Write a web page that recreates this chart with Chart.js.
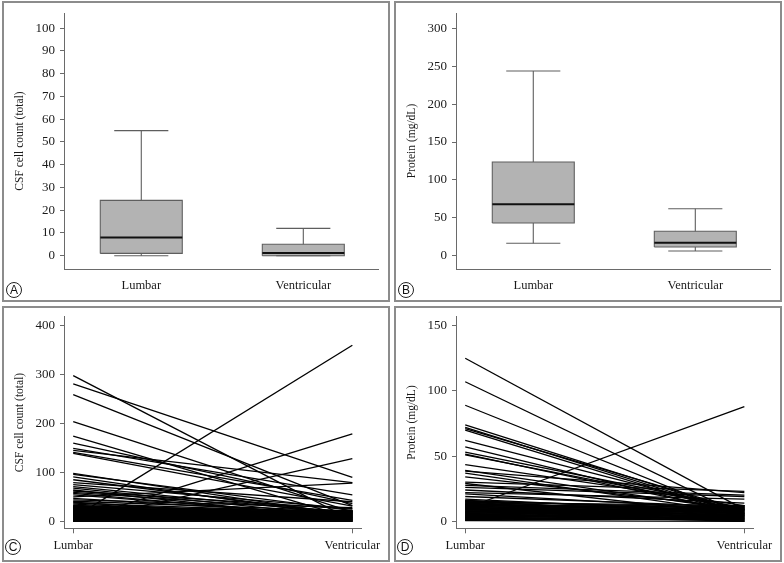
<!DOCTYPE html>
<html><head><meta charset="utf-8">
<script src="https://cdn.jsdelivr.net/npm/chart.js@4/dist/chart.umd.min.js"></script>
<style>
html,body{margin:0;padding:0;background:#fff;width:784px;height:563px;overflow:hidden;position:relative}
.panel{position:absolute;box-sizing:border-box;border:2px solid #8c8c8c}
canvas{position:absolute}
.tag{position:absolute;width:16px;height:16px;box-sizing:border-box;border:1px solid #222;border-radius:50%;font:12px 'Liberation Sans',Arial,sans-serif;line-height:14px;text-align:center;color:#111}
</style></head><body>
<div class="panel" style="left:2px;top:1px;width:388px;height:301px"></div>
<div class="panel" style="left:394px;top:1px;width:388px;height:301px"></div>
<div class="panel" style="left:2px;top:306px;width:388px;height:256px"></div>
<div class="panel" style="left:394px;top:306px;width:388px;height:256px"></div>
<canvas id="cA" width="392" height="302" style="left:0;top:0"></canvas>
<canvas id="cB" width="392" height="302" style="left:392px;top:0"></canvas>
<canvas id="cC" width="392" height="261" style="left:0;top:302px"></canvas>
<canvas id="cD" width="392" height="261" style="left:392px;top:302px"></canvas>
<div class="tag" style="left:6px;top:282px">A</div>
<div class="tag" style="left:398px;top:282px">B</div>
<div class="tag" style="left:5px;top:539px">C</div>
<div class="tag" style="left:397px;top:539px">D</div>
<script>
// ---- categories ----
const categories = ['Lumbar', 'Ventricular'];

// ---- Panel A: CSF cell count box plot (Lumbar, Ventricular) ----
const cellMin    = [0, 0];
const cellQ1     = [1, 0];
const cellMedian = [8, 1.2];
const cellQ3     = [24.3, 5];
const cellMax    = [55, 12];
const cellBoxTicks = [0, 10, 20, 30, 40, 50, 60, 70, 80, 90, 100];

// ---- Panel B: Protein box plot ----
const protMin    = [16.4, 6.2];
const protQ1     = [43.1, 11.5];
const protMedian = [67.8, 17.2];
const protQ3     = [123.6, 32.2];
const protMax    = [243.6, 62];
const protBoxTicks = [0, 50, 100, 150, 200, 250, 300];

// ---- Panel C: paired CSF cell counts (lumbar -> ventricular) ----
const cellLumbar = [298, 281, 259, 204, 174, 160, 149, 145, 141, 139, 98, 96, 91, 85, 79, 75, 71, 68, 64, 62, 59, 57, 54, 50, 47, 44, 41, 39, 37, 35, 7, 2, 0,
  33, 32, 31, 30, 29, 28, 27, 26, 25, 24, 23, 22, 21, 20, 19, 18, 17, 16, 15, 14, 13, 12, 11, 10, 9, 8, 7, 6, 5, 4, 3, 2, 1, 0,
  30, 27, 24, 21, 18, 15, 12, 9, 6, 3, 26, 20, 14, 8, 4, 1, 31, 25, 19, 13, 7, 2, 28, 22, 16, 10, 5, 0];
const cellVentricular = [2, 90, 32, 19, 6, 36, 54, 79, 43, 31, 12, 22, 8, 14, 40, 26, 15, 9, 4, 25, 20, 7, 10, 78, 13, 28, 21, 5, 17, 11, 360, 179, 128,
  3, 18, 9, 21, 2, 14, 7, 22, 11, 5, 16, 1, 19, 8, 13, 0, 20, 6, 12, 3, 17, 9, 22, 4, 15, 1, 10, 18, 2, 7, 21, 5, 12, 0,
  6, 15, 20, 3, 11, 19, 2, 8, 14, 1, 10, 17, 0, 22, 13, 6, 16, 4, 21, 7, 0, 18, 12, 9, 15, 19, 8, 3];
const cellPairTicks = [0, 100, 200, 300, 400];

// ---- Panel D: paired protein (lumbar -> ventricular) ----
const protLumbar = [125, 107, 89, 74, 72, 71, 70, 62, 57, 53, 51.5, 51, 43.5, 39, 38.5, 37, 34, 30, 29, 27.5, 26, 24, 22, 21, 19, 17, 10,
  16, 15.5, 15, 14.5, 14, 13.5, 13, 12.5, 12, 11.5, 11, 10.5, 10, 9.5, 9, 8.5, 8, 7.5, 7, 6.5, 6, 5.5, 5, 4.5, 4, 3.5, 3, 2.5, 2, 1.5, 1, 0.5,
  16, 14, 12, 10, 8, 6, 4, 2, 1, 15, 13, 11, 9, 7, 5, 3, 13, 11, 9, 7, 5, 3, 1];
const protVentricular = [9, 4, 3, 6, 5, 8, 4, 7, 5, 10, 6, 9, 12, 8, 22, 6, 10, 23, 5, 20, 19, 14, 17, 9, 11, 7, 88,
  3, 10, 6, 12, 1, 8, 4, 11, 2, 9, 0, 7, 12, 5, 3, 10, 1, 6, 11, 4, 8, 0, 9, 2, 12, 5, 7, 1, 10, 3, 6, 0,
  8, 5, 11, 2, 9, 1, 7, 4, 12, 0, 6, 3, 12, 5, 10, 2, 9, 11, 1, 8, 4, 11, 2];
const protPairTicks = [0, 50, 100, 150];

const SERIF = "'Liberation Serif', 'Times New Roman', serif";
const AXIS = '#6a6a6a';
const TXT = '#1a1a1a';

function yScale(min, max, ticks, title) {
  return {
    type: 'linear', position: 'left', min: min, max: max,
    afterFit: s => { s.width = 64; },
    afterBuildTicks: s => { s.ticks = ticks.map(v => ({ value: v })); },
    ticks: { font: { family: SERIF, size: 13 }, color: TXT, padding: 5 },
    grid: { display: true, drawOnChartArea: false, drawTicks: true, tickLength: 4, color: AXIS, lineWidth: 1 },
    border: { display: true, color: AXIS, width: 1 },
    title: { display: true, text: title, font: { family: SERIF, size: 11.5 }, color: TXT, padding: { top: 13, bottom: 0 } }
  };
}

function xScale(min, max, height, withTicks, pad) {
  return {
    type: 'linear', position: 'bottom', min: min, max: max,
    afterFit: s => { s.height = height; },
    afterBuildTicks: s => { s.ticks = categories.map((c, i) => ({ value: i + 1 })); },
    ticks: { callback: v => categories[Math.round(v) - 1], font: { family: SERIF, size: 12.5 }, color: TXT, padding: pad, autoSkip: false, maxRotation: 0 },
    grid: withTicks ? { display: true, drawOnChartArea: false, drawTicks: true, tickLength: 5, color: AXIS, lineWidth: 1 }
                    : { display: false, drawTicks: false },
    border: { display: true, color: AXIS, width: 1 }
  };
}

function baseOptions(padding, xs, ys) {
  return {
    responsive: false, animation: false, devicePixelRatio: 1,
    layout: { padding: padding },
    plugins: { legend: { display: false }, tooltip: { enabled: false } },
    elements: { point: { radius: 0, hoverRadius: 0 }, line: { tension: 0 } },
    scales: { x: xs, y: ys }
  };
}

function boxDatasets(mins, q1s, meds, q3s, maxs) {
  const hw = 0.253, cw = 0.167;
  const ds = [];
  const edge = { borderColor: '#5e5e5e', borderWidth: 1.1, fill: false };
  categories.forEach((c, i) => {
    const x = i + 1;
    ds.push({ data: [{ x: x - hw, y: q3s[i] }, { x: x + hw, y: q3s[i] }], fill: { value: q1s[i] }, backgroundColor: '#b3b3b3', borderWidth: 0, order: 10 });
    ds.push(Object.assign({ data: [{ x: x, y: q3s[i] }, { x: x, y: maxs[i] }] }, edge));
    ds.push(Object.assign({ data: [{ x: x, y: mins[i] }, { x: x, y: q1s[i] }] }, edge));
    ds.push(Object.assign({ data: [{ x: x - cw, y: maxs[i] }, { x: x + cw, y: maxs[i] }] }, edge));
    ds.push(Object.assign({ data: [{ x: x - cw, y: mins[i] }, { x: x + cw, y: mins[i] }] }, edge));
    ds.push(Object.assign({ data: [{ x: x - hw, y: q1s[i] }, { x: x + hw, y: q1s[i] }, { x: x + hw, y: q3s[i] }, { x: x - hw, y: q3s[i] }, { x: x - hw, y: q1s[i] }] }, edge));
    ds.push({ data: [{ x: x - hw, y: meds[i] }, { x: x + hw, y: meds[i] }], borderColor: '#111', borderWidth: 2, fill: false, order: -1 });
  });
  return ds;
}

function pairDatasets(lumbar, ventricular) {
  return lumbar.map((v, i) => ({
    data: [{ x: 1, y: v }, { x: 2, y: ventricular[i] }],
    borderColor: '#000', borderWidth: 1.3, fill: false
  }));
}

new Chart(document.getElementById('cA'), {
  type: 'line',
  data: { datasets: boxDatasets(cellMin, cellQ1, cellMedian, cellQ3, cellMax) },
  options: baseOptions({ top: 13, right: 14, left: 0, bottom: 0 },
    xScale(0.523, 2.461, 33, false, 9), yScale(-5.85, 106.7, cellBoxTicks, 'CSF cell count (total)'))
});
new Chart(document.getElementById('cB'), {
  type: 'line',
  data: { datasets: boxDatasets(protMin, protQ1, protMedian, protQ3, protMax) },
  options: baseOptions({ top: 13, right: 14, left: 0, bottom: 0 },
    xScale(0.523, 2.461, 33, false, 9), yScale(-17.5, 320.2, protBoxTicks, 'Protein (mg/dL)'))
});
new Chart(document.getElementById('cC'), {
  type: 'line',
  data: { datasets: pairDatasets(cellLumbar, cellVentricular) },
  options: baseOptions({ top: 14.7, right: 31, left: 0, bottom: 0 },
    xScale(0.967, 2.031, 34.7, true, 5), yScale(-14.3, 418.4, cellPairTicks, 'CSF cell count (total)'))
});
new Chart(document.getElementById('cD'), {
  type: 'line',
  data: { datasets: pairDatasets(protLumbar, protVentricular) },
  options: baseOptions({ top: 14.7, right: 31, left: 0, bottom: 0 },
    xScale(0.967, 2.031, 34.7, true, 5), yScale(-5.37, 156.9, protPairTicks, 'Protein (mg/dL)'))
});
</script>
</body></html>
